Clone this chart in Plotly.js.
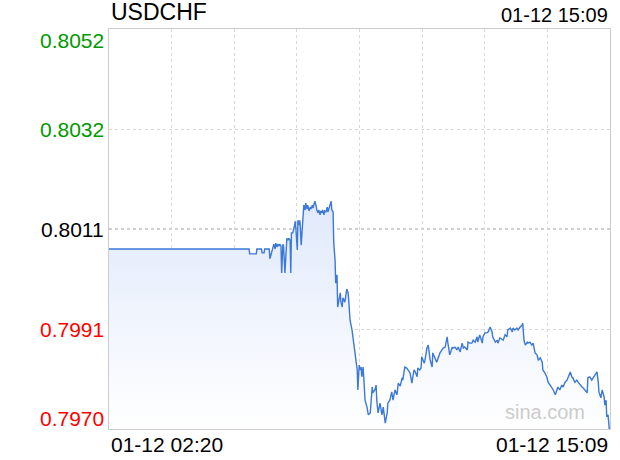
<!DOCTYPE html>
<html>
<head>
<meta charset="utf-8">
<script src="https://cdn.plot.ly/plotly-3.0.1.min.js"></script>
<style>html,body{margin:0;padding:0;background:#fff;}#chart{width:620px;height:460px;}</style>
</head>
<body>
<div id="chart"></div>
<script>
const symbol = 'USDCHF';
const startLabel = '01-12 02:20';
const endLabel = '01-12 15:09';
const sessionMinutes = 769;
const prevClose = 0.80111;
const yTickVals = [0.80521, 0.80316, 0.80111, 0.79906, 0.79701];
const yTickText = ['0.8052', '0.8032', '0.8011', '0.7991', '0.7970'];

// minutes since 02:20
const minutes = [0,215,216,226,227,234,235,238,239,246,247,249,250,252,253,255,256,258,259,261,
262,264,265,267,268,270,272,273,275,276,278,279,280,282,284,286,287,289,290,292,
293,295,297,299,301,302,304,305,307,309,310,312,313,315,316,318,319,321,322,324,
325,327,328,330,331,333,335,336,338,339,341,342,344,345,347,348,350,351,353,355,
356,358,359,362,365,367,368,370,373,375,378,381,382,384,385,387,388,390,391,393,
396,398,401,404,405,408,410,411,413,416,419,421,424,427,428,431,434,436,439,442,
444,447,450,451,454,457,459,462,465,467,468,470,473,474,477,479,480,484,485,488,
490,493,496,497,500,503,508,511,513,516,519,520,523,527,528,531,534,536,539,542,
544,546,550,551,554,557,559,562,565,566,569,573,574,577,580,582,585,588,589,593,
596,597,600,605,608,611,612,616,619,620,623,626,628,631,634,635,637,639,642,643,
646,649,651,654,657,659,662,665,666,669,672,674,677,680,682,685,688,689,692,695,
697,700,703,705,708,711,712,715,718,720,723,726,728,731,734,735,738,741,743,746,
749,751,752,755,757,760,761,763,764,766,768];

const prices = [0.80070,0.80070,0.80060,0.80060,0.80070,0.80070,0.80062,0.80062,0.80070,0.80070,0.80050,0.80060,0.80070,0.80076,0.80080,0.80070,0.80082,0.80074,0.80080,0.80076,
0.80080,0.80076,0.80021,0.80080,0.80076,0.80021,0.80088,0.80092,0.80088,0.80092,0.80088,0.80021,0.80103,0.80103,0.80113,0.80127,0.80109,0.80068,0.80129,0.80119,
0.80129,0.80078,0.80119,0.80160,0.80150,0.80164,0.80152,0.80160,0.80148,0.80156,0.80152,0.80160,0.80154,0.80164,0.80168,0.80158,0.80150,0.80144,0.80150,0.80140,
0.80148,0.80144,0.80150,0.80140,0.80148,0.80146,0.80156,0.80146,0.80154,0.80158,0.80168,0.80150,0.80146,0.80082,0.80047,0.80000,0.80017,0.79951,0.79970,0.79980,
0.79961,0.79951,0.79970,0.79961,0.79988,0.79980,0.79965,0.79924,0.79904,0.79883,0.79849,0.79822,0.79781,0.79832,0.79822,0.79828,0.79808,0.79828,0.79808,0.79760,
0.79746,0.79730,0.79734,0.79787,0.79775,0.79781,0.79791,0.79760,0.79734,0.79754,0.79730,0.79746,0.79713,0.79734,0.79754,0.79760,0.79777,0.79760,0.79781,0.79771,
0.79795,0.79789,0.79806,0.79801,0.79828,0.79826,0.79822,0.79816,0.79795,0.79812,0.79822,0.79818,0.79808,0.79826,0.79822,0.79826,0.79849,0.79836,0.79842,0.79867,
0.79873,0.79842,0.79828,0.79857,0.79847,0.79838,0.79857,0.79863,0.79867,0.79869,0.79890,0.79879,0.79853,0.79869,0.79867,0.79869,0.79863,0.79869,0.79859,0.79877,
0.79867,0.79869,0.79863,0.79879,0.79877,0.79877,0.79883,0.79879,0.79890,0.79879,0.79894,0.79877,0.79890,0.79898,0.79898,0.79900,0.79910,0.79900,0.79890,0.79879,
0.79883,0.79877,0.79888,0.79883,0.79894,0.79890,0.79904,0.79908,0.79900,0.79908,0.79904,0.79908,0.79904,0.79910,0.79914,0.79918,0.79883,0.79873,0.79879,0.79877,
0.79879,0.79873,0.79877,0.79857,0.79853,0.79842,0.79847,0.79838,0.79822,0.79816,0.79808,0.79797,0.79791,0.79787,0.79781,0.79771,0.79785,0.79787,0.79781,0.79791,
0.79787,0.79797,0.79801,0.79808,0.79818,0.79806,0.79806,0.79797,0.79801,0.79797,0.79791,0.79787,0.79785,0.79781,0.79775,0.79806,0.79808,0.79801,0.79806,0.79812,
0.79818,0.79797,0.79777,0.79765,0.79781,0.79767,0.79750,0.79760,0.79726,0.79730,0.79699];

const yMin = yTickVals[yTickVals.length - 1];
const yMax = yTickVals[0];
const FONT = 'Liberation Sans, Arial, sans-serif';

const trace = {
  x: minutes, y: prices, type: 'scatter', mode: 'lines',
  line: {color: '#3b78d8', width: 1.4},
  fill: 'tozeroy',
  fillgradient: {
    type: 'vertical', start: yMin, stop: Math.max(...prices),
    colorscale: [[0, 'rgba(255,255,255,1)'], [1, 'rgb(224,233,251)']]
  },
  hoverinfo: 'skip'
};

const annotations = yTickText.map((t, i) => {
  const v = yTickVals[i];
  const col = v > prevClose + 1e-6 ? '#009900' : (v < prevClose - 1e-6 ? '#ff0000' : '#000000');
  return {
    xref: 'paper', yref: 'y', x: 0, y: v, xshift: -3,
    xanchor: 'right',
    yanchor: i === 0 ? 'top' : (i === yTickText.length - 1 ? 'bottom' : 'middle'),
    yshift: i === 0 ? 2 : (i === yTickText.length - 1 ? -3 : 0),
    text: t, showarrow: false,
    font: {family: FONT, size: 21, color: col}
  };
});
annotations.push(
  {xref: 'paper', yref: 'paper', x: 0, y: 1, xshift: 0, yshift: 2, xanchor: 'left', yanchor: 'bottom',
   text: symbol, showarrow: false, font: {family: FONT, size: 23, color: '#000'}},
  {xref: 'paper', yref: 'paper', x: 1, y: 1, yshift: 1, xanchor: 'right', yanchor: 'bottom',
   text: endLabel, showarrow: false, font: {family: FONT, size: 20, color: '#000'}},
  {xref: 'paper', yref: 'paper', x: 0, y: 0, yshift: -2, xanchor: 'left', yanchor: 'top',
   text: startLabel, showarrow: false, font: {family: FONT, size: 21, color: '#000'}},
  {xref: 'paper', yref: 'paper', x: 1, y: 0, yshift: -2, xanchor: 'right', yanchor: 'top',
   text: endLabel, showarrow: false, font: {family: FONT, size: 21, color: '#000'}},
  {xref: 'paper', yref: 'paper', x: 0.955, y: 0, yshift: 4, xanchor: 'right', yanchor: 'bottom',
   text: 'sina.com', showarrow: false, font: {family: FONT, size: 20, color: '#cccccc'}}
);

const layout = {
  width: 620, height: 460,
  margin: {l: 109, r: 10, t: 29, b: 31, pad: 0},
  paper_bgcolor: '#ffffff', plot_bgcolor: '#ffffff',
  showlegend: false,
  xaxis: {
    range: [0, sessionMinutes], tick0: 0, dtick: sessionMinutes / 8,
    showticklabels: false, ticks: '', zeroline: false,
    showgrid: true, gridcolor: '#d8d8d8', griddash: 'dot', gridwidth: 1,
    showline: true, linecolor: '#cccccc', linewidth: 1, mirror: true
  },
  yaxis: {
    range: [yMin, yMax], tickmode: 'array',
    tickvals: [yTickVals[1], yTickVals[3]],
    showticklabels: false, ticks: '', zeroline: false,
    showgrid: true, gridcolor: '#d8d8d8', griddash: 'dot', gridwidth: 1,
    showline: true, linecolor: '#cccccc', linewidth: 1, mirror: true
  },
  shapes: [{
    type: 'line', xref: 'paper', yref: 'y', x0: 0, x1: 1, y0: prevClose, y1: prevClose,
    line: {color: '#a0a0a0', width: 1, dash: '3px,3px'}, layer: 'below'
  }],
  annotations: annotations
};

Plotly.newPlot('chart', [trace], layout, {staticPlot: true, displayModeBar: false});
</script>
</body>
</html>
